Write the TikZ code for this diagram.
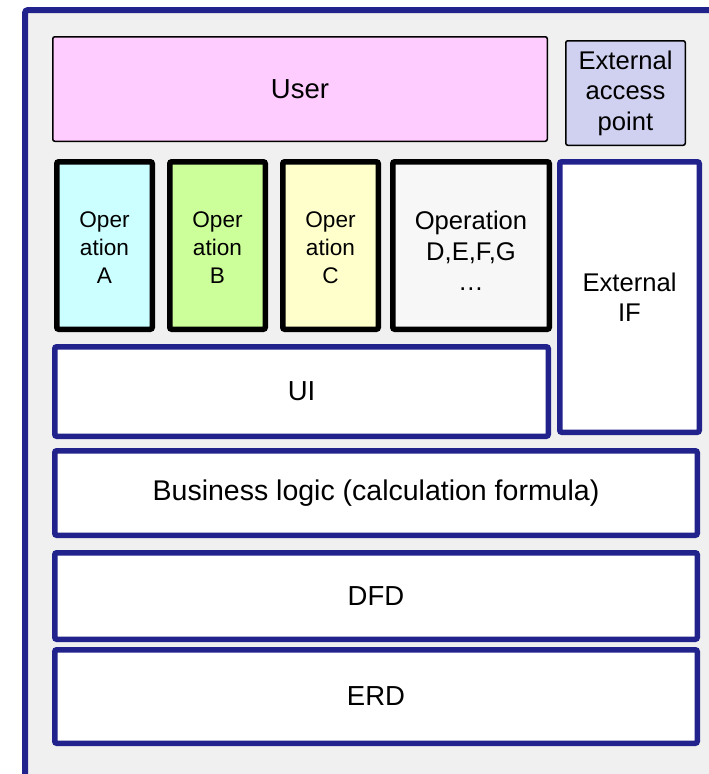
\documentclass[tikz,border=0pt]{standalone}
\usepackage{fontspec}
\setmainfont{Liberation Sans}
\definecolor{navy}{RGB}{34,34,140}
\definecolor{framebg}{RGB}{240,240,240}
\definecolor{userpink}{RGB}{255,204,255}
\definecolor{eapblue}{RGB}{208,208,240}
\definecolor{opa}{RGB}{204,255,255}
\definecolor{opb}{RGB}{204,255,153}
\definecolor{opc}{RGB}{255,255,204}
\definecolor{opd}{RGB}{247,247,247}
\tikzset{
  box/.style={rectangle, rounded corners=2pt, align=center, inner sep=0pt, text=black},
  opbox/.style={box, draw=black, line width=5.5pt, font=\fontsize{22.6}{28}\selectfont},
  navbox/.style={box, draw=navy, line width=5.5pt, fill=white, font=\fontsize{27.5}{33}\selectfont},
  thinbox/.style={box, draw=black, line width=1.5pt},
  mid/.style={font=\fontsize{25.6}{30.5}\selectfont},
}
\begin{document}
\begin{tikzpicture}[x=1pt,y=-1pt]
\useasboundingbox (0,0) rectangle (709,774);
\begin{scope}
\clip (0,0) rectangle (709,774);
\fill[framebg] (25,10) rectangle (720,790);
\draw[navy, line width=6pt, rounded corners=3pt] (25,790) -- (25,10) -- (720,10);
\end{scope}
\node[thinbox, fill=userpink, minimum width=494.5pt, minimum height=104.5pt, font=\fontsize{27.5}{33}\selectfont] (user) at (300,89) {User};
\node[thinbox, fill=eapblue, minimum width=119.5pt, minimum height=104.5pt, mid] (eap) at (625.5,93) {External\\access\\point};
\node[opbox, fill=opa, minimum width=95.5pt, minimum height=167.5pt] (opA) at (104.5,245.5) {\rule{0pt}{20.5pt}Oper\\ation\\A};
\node[opbox, fill=opb, minimum width=95.5pt, minimum height=167.5pt] (opB) at (217.5,245.5) {\rule{0pt}{20.5pt}Oper\\ation\\B};
\node[opbox, fill=opc, minimum width=95.5pt, minimum height=167.5pt] (opC) at (330.5,245.5) {\rule{0pt}{20.5pt}Oper\\ation\\C};
\node[opbox, fill=opd, minimum width=156.5pt, minimum height=167.5pt, mid] (opD) at (471,245.5) {\rule{0pt}{29pt}Operation\\D,E,F,G\\…};
\node[navbox, minimum width=139.5pt, minimum height=270.5pt, mid] (extif) at (629.5,297) {External\\IF};
\node[navbox, minimum width=493.5pt, minimum height=89.5pt] (ui) at (301.5,391.5) {UI};
\node[navbox, minimum width=642.5pt, minimum height=84.5pt, font=\fontsize{28.5}{34}\selectfont] (bl) at (376,493) {Business logic (calculation formula)};
\node[navbox, minimum width=642.5pt, minimum height=86.5pt] (dfd) at (376,596) {DFD};
\node[navbox, minimum width=642.5pt, minimum height=93.5pt] (erd) at (376,696.5) {ERD};
\end{tikzpicture}
\end{document}
